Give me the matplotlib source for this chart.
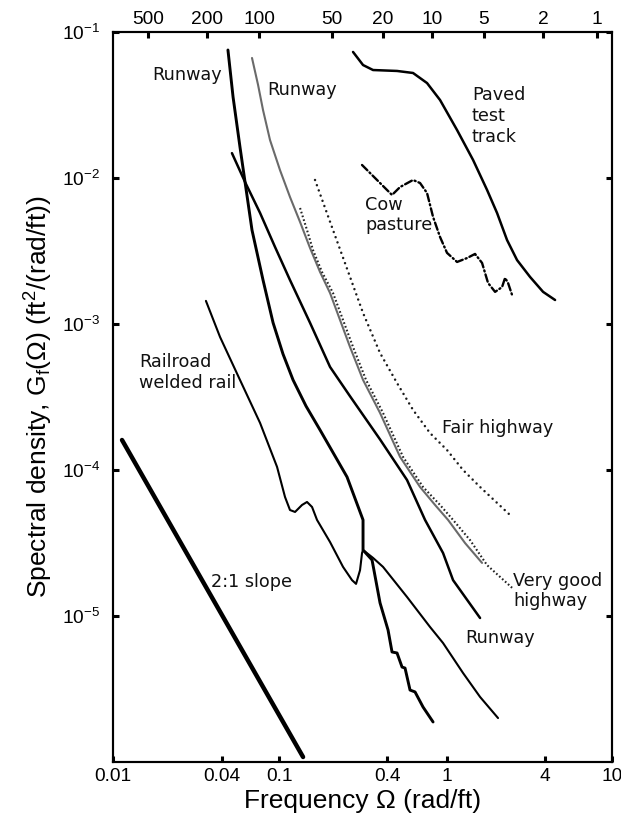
import matplotlib
matplotlib.use('Agg')
import matplotlib.pyplot as plt
from matplotlib.ticker import NullLocator, FixedLocator, FixedFormatter

plt.rcParams['font.family'] = ['Liberation Sans', 'DejaVu Sans']
plt.rcParams['mathtext.default'] = 'regular'

# ---------------- data (frequency in rad/ft, spectral density in ft^2/(rad/ft)) ----------------
runway_a_freq = [0.0491, 0.0527, 0.0580, 0.0622, 0.0685, 0.0798, 0.0917, 0.1052, 0.1209, 0.1447,
                 0.1757, 0.2553, 0.3186, 0.3186, 0.3609, 0.4031, 0.4504, 0.4759, 0.5101, 0.5467,
                 0.5698, 0.6107, 0.6544, 0.7311, 0.840]
runway_a_psd = [0.0753, 0.0359, 0.0163, 0.00939, 0.00440, 0.00200, 0.00102, 6.23e-4, 4.14e-4, 2.74e-4,
                1.88e-4, 8.96e-5, 4.55e-5, 2.83e-5, 2.42e-5, 1.23e-5, 8.02e-6, 5.67e-6, 5.58e-6, 4.47e-6,
                4.40e-6, 3.11e-6, 3.02e-6, 2.38e-6, 1.88e-6]

runway_b_freq = [0.0519, 0.0622, 0.0766, 0.0942, 0.1159, 0.1529, 0.2018, 0.2661, 0.4031, 0.5858,
                 0.7517, 0.9645, 1.108, 1.610]
runway_b_psd = [0.0148, 0.00939, 0.00576, 0.00337, 0.00200, 0.00102, 5.08e-4, 3.20e-4, 1.62e-4, 8.54e-5,
                4.55e-5, 2.70e-5, 1.76e-5, 9.69e-6]

runway_c_freq = [0.0685, 0.0745, 0.0798, 0.0879, 0.1010, 0.1159, 0.1332, 0.1529, 0.1757, 0.2018,
                 0.2661, 0.3186, 0.4031, 0.5317, 0.7015, 0.8636, 1.034, 1.308, 1.655]
runway_c_psd = [0.0664, 0.0434, 0.0292, 0.0182, 0.0113, 0.00741, 0.00500, 0.00332, 0.00227, 0.00163,
                6.96e-4, 4.14e-4, 2.46e-4, 1.23e-4, 7.65e-5, 5.76e-5, 4.55e-5, 3.16e-5, 2.31e-5]

very_good_freq = [0.1332, 0.1467, 0.1594, 0.1806, 0.2103, 0.2774, 0.3321, 0.4202, 0.5543, 0.7311,
                  0.9254, 1.108, 1.402, 1.774, 2.508]
very_good_psd = [6.23e-3, 4.40e-3, 3.21e-3, 2.27e-3, 1.63e-3, 6.96e-4, 4.14e-4, 2.46e-4, 1.23e-4, 7.65e-5,
                 5.76e-5, 4.55e-5, 3.31e-5, 2.23e-5, 1.56e-5]

fair_freq = [0.1639, 0.2103, 0.2661, 0.3186, 0.4031, 0.5101, 0.6365, 0.8055, 1.019, 1.272, 1.610, 2.508]
fair_psd = [9.69e-3, 4.40e-3, 2.10e-3, 1.19e-3, 6.33e-4, 3.94e-4, 2.58e-4, 1.79e-4, 1.37e-4, 1.00e-4,
            7.65e-5, 4.77e-5]

rail_freq = [0.0362, 0.0440, 0.0580, 0.0766, 0.0969, 0.1082, 0.1159, 0.1243, 0.1369, 0.1467, 0.1573,
             0.1685, 0.2018, 0.2415, 0.2736, 0.2892, 0.3056, 0.3142, 0.3186, 0.3659, 0.4202, 0.5858,
             0.8055, 0.9645, 1.272, 1.610, 2.065]
rail_psd = [1.44e-3, 8.15e-4, 4.14e-4, 2.10e-4, 1.05e-4, 6.53e-5, 5.32e-5, 5.16e-5, 5.76e-5, 6.04e-5,
            5.58e-5, 4.55e-5, 3.21e-5, 2.17e-5, 1.76e-5, 1.66e-5, 2.06e-5, 2.70e-5, 2.83e-5, 2.50e-5,
            2.17e-5, 1.35e-5, 8.41e-6, 6.53e-6, 4.07e-6, 2.79e-6, 2.00e-6]

paved_freq = [0.2774, 0.3186, 0.3659, 0.5101, 0.6365, 0.7728, 0.9254, 1.171, 1.461, 1.774, 2.037,
              2.339, 2.687, 3.217, 3.852, 4.548]
paved_psd = [0.0730, 0.0594, 0.0549, 0.0541, 0.0524, 0.0447, 0.0342, 0.0213, 0.0133, 0.00828, 0.00576,
             0.00376, 0.00274, 0.00210, 0.00166, 0.00146]

cow_freq = [0.3142, 0.3867, 0.4759, 0.5317, 0.6365, 0.7015, 0.7728, 0.840, 0.9254, 1.019, 1.171,
            1.345, 1.502, 1.655, 1.798, 1.982, 2.183, 2.276, 2.372, 2.508]
cow_psd = [0.01228, 9.69e-3, 7.65e-3, 8.67e-3, 9.69e-3, 9.24e-3, 7.89e-3, 5.41e-3, 3.94e-3, 3.07e-3,
           2.66e-3, 2.83e-3, 3.02e-3, 2.62e-3, 1.91e-3, 1.66e-3, 1.79e-3, 2.07e-3, 1.91e-3, 1.58e-3]

slope_freq = [0.01133, 0.1389]
slope_psd = [1.605e-4, 1.082e-6]

bottom_tick_labels = ['0.01', '0.04', '0.1', '0.4', '1', '4', '10']
bottom_tick_freq = [0.01, 0.045, 0.1, 0.447, 1.02, 3.95, 10]
top_tick_labels = ['500', '200', '100', '50', '20', '10', '5', '2', '1']
top_tick_freq = [0.0162, 0.0367, 0.0755, 0.2075, 0.420, 0.828, 1.70, 3.85, 8.13]
y_tick_vals = [1e-5, 1e-4, 1e-3, 1e-2, 1e-1]
y_tick_labels = [r'10$^{-5}$', r'10$^{-4}$', r'10$^{-3}$', r'10$^{-2}$', r'10$^{-1}$']

# ---------------- figure ----------------
fig = plt.figure(figsize=(6.21, 8.31), dpi=100)
ax = fig.add_axes([0.18196, 0.08303, 0.80354, 0.87846])
ax.set_xscale('log')
ax.set_yscale('log')
ax.set_xlim(0.01, 10)
ax.set_ylim(1e-6, 1e-1)

kw = dict(solid_capstyle='round', solid_joinstyle='round')
ax.plot(slope_freq, slope_psd, color='black', lw=3.2, **kw)
ax.plot(runway_c_freq, runway_c_psd, color='#6a6a6a', lw=1.5, **kw)
ax.plot(runway_a_freq, runway_a_psd, color='black', lw=2.1, **kw)
ax.plot(runway_b_freq, runway_b_psd, color='black', lw=1.8, **kw)
ax.plot(rail_freq, rail_psd, color='black', lw=1.5, **kw)
ax.plot(paved_freq, paved_psd, color='black', lw=1.8, **kw)
ax.plot(very_good_freq, very_good_psd, color='#222222', lw=1.5,
        linestyle=(0, (0.8, 1.1)), dash_capstyle='butt')
ax.plot(fair_freq, fair_psd, color='#1a1a1a', lw=1.8,
        linestyle=(0, (0.01, 2.2)), dash_capstyle='round')
ax.plot(cow_freq, cow_psd, color='black', lw=1.7,
        linestyle=(0, (3.2, 1.3, 0.5, 1.3)), dash_capstyle='round')

# annotations
tkw = dict(transform=ax.transAxes, family='DejaVu Sans', fontsize=12.7, ha='left', va='center',
           color='#111111')
ax.text(0.0782, 0.9411, 'Runway', **tkw)
ax.text(0.3086, 0.9205, 'Runway', **tkw)
ax.text(0.7194, 0.8849, 'Paved\ntest\ntrack', linespacing=1.22, **tkw)
ax.text(0.505, 0.7493, 'Cow\npasture', linespacing=1.15, **tkw)
ax.text(0.0521, 0.5336, 'Railroad\nwelded rail', linespacing=1.15, **tkw)
ax.text(0.6593, 0.4575, 'Fair highway', **tkw)
ax.text(0.1964, 0.2466, '2:1 slope', **tkw)
ax.text(0.8016, 0.2342, 'Very good\nhighway', linespacing=1.12, **tkw)
ax.text(0.7054, 0.1699, 'Runway', **tkw)

# axes styling
ax.xaxis.set_major_locator(FixedLocator(bottom_tick_freq))
ax.xaxis.set_major_formatter(FixedFormatter(bottom_tick_labels))
ax.xaxis.set_minor_locator(NullLocator())
ax.yaxis.set_major_locator(FixedLocator(y_tick_vals))
ax.yaxis.set_major_formatter(FixedFormatter(y_tick_labels))
ax.yaxis.set_minor_locator(NullLocator())
ax.tick_params(axis='both', which='major', direction='in', length=4, width=2.2,
               labelsize=13.8, right=True, top=False)
ax.tick_params(axis='x', pad=4)
ax.tick_params(axis='y', pad=9)
for s in ax.spines.values():
    s.set_linewidth(1.5)

ax2 = ax.twiny()
ax2.set_xscale('log')
ax2.set_xlim(ax.get_xlim())
ax2.xaxis.set_major_locator(FixedLocator(top_tick_freq))
ax2.xaxis.set_major_formatter(FixedFormatter(top_tick_labels))
ax2.xaxis.set_minor_locator(NullLocator())
ax2.tick_params(axis='x', direction='in', length=4, width=2.2, labelsize=13.8, pad=3)
for s in ax2.spines.values():
    s.set_linewidth(1.5)

ax.set_xlabel('Frequency Ω (rad/ft)', fontsize=19, labelpad=3)
ax.set_ylabel(r'Spectral density, G$_{f}$(Ω) (ft$^{2}$/(rad/ft))', fontsize=19, labelpad=5)

fig.savefig('out.png', dpi=100)
